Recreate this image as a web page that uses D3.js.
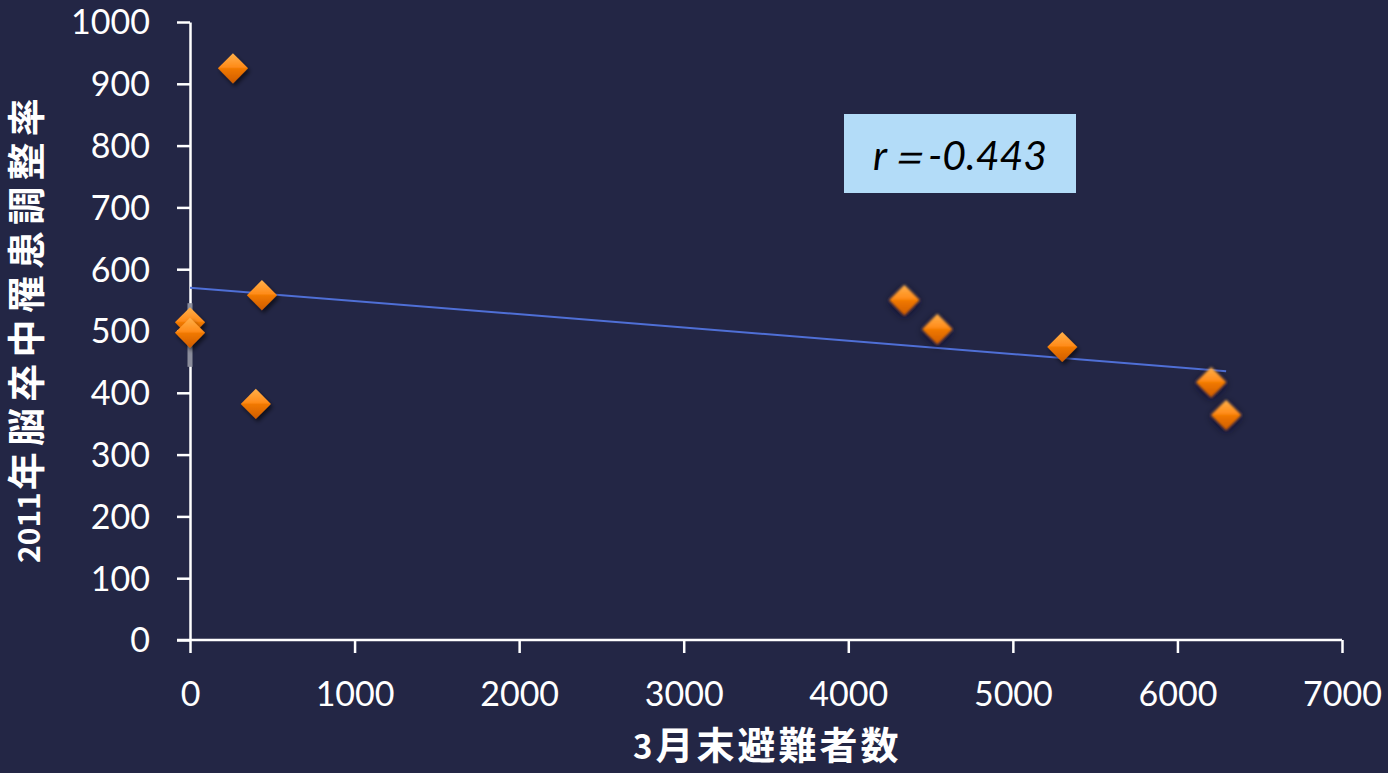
<!DOCTYPE html>
<html>
<head>
<meta charset="utf-8">
<script src="https://cdn.jsdelivr.net/npm/d3@7"></script>
<style>
  html, body { margin: 0; padding: 0; background: #232645; }
  svg { display: block; }
</style>
</head>
<body>
<svg id="chart" width="1388" height="773"></svg>
<script>
// Evacuees at end of March vs. 2011 age-adjusted stroke incidence, by municipality
const evacuees  = [261, 437, 400, 0, 0, 4341, 4541, 5300, 6205, 6296];
const strokeRate = [925, 558, 382, 514, 497, 550, 503, 474, 417, 364];

// Fitted regression line (end points in data units)
const trendX = [0, 6296];
const trendY = [570, 435];

const xTicks = [0, 1000, 2000, 3000, 4000, 5000, 6000, 7000];
const yTicks = [0, 100, 200, 300, 400, 500, 600, 700, 800, 900, 1000];

const xTitleNum = "3", xTitleText = "月末避難者数";
const yTitleNum = "2011", yTitleText = "年脳卒中罹患調整率";
const corrLabel = "r＝-0.443";

const plot = { left: 190, right: 1342, top: 22, bottom: 640 };

const svg = d3.select("#chart");
const x = d3.scaleLinear().domain([0, 7000]).range([plot.left, plot.right]);
const y = d3.scaleLinear().domain([0, 1000]).range([plot.bottom, plot.top]);

const defs = svg.append("defs");
const grad = defs.append("linearGradient")
  .attr("id", "diamondFill").attr("x1", 0).attr("y1", 0).attr("x2", 0).attr("y2", 1);
[["0%", "#ffb04a"], ["45%", "#ff8c1a"], ["52%", "#f07800"], ["100%", "#cf5c00"]]
  .forEach(([o, c]) => grad.append("stop").attr("offset", o).attr("stop-color", c));

const shadow = defs.append("filter").attr("id", "shadow")
  .attr("x", "-50%").attr("y", "-50%").attr("width", "200%").attr("height", "200%");
shadow.append("feDropShadow").attr("dx", 2).attr("dy", 3).attr("stdDeviation", 2)
  .attr("flood-color", "#000").attr("flood-opacity", 0.6);

const soft = defs.append("filter").attr("id", "soft")
  .attr("x", "-60%").attr("y", "-60%").attr("width", "220%").attr("height", "220%");
soft.append("feDropShadow").attr("dx", 0).attr("dy", 2).attr("stdDeviation", 4)
  .attr("flood-color", "#0a0d20").attr("flood-opacity", 0.9);
soft.append("feGaussianBlur").attr("stdDeviation", 1.3);

// Axes
const fmt = d3.format("d");
const xAxis = d3.axisBottom(x).tickValues(xTicks).tickFormat(fmt)
  .tickSize(13).tickSizeOuter(0).tickPadding(29);
const yAxis = d3.axisLeft(y).tickValues(yTicks).tickFormat(fmt)
  .tickSize(13).tickSizeOuter(0).tickPadding(27);

const gx = svg.append("g").attr("transform", `translate(0,${plot.bottom})`).call(xAxis);
const gy = svg.append("g").attr("transform", `translate(${plot.left},0)`).call(yAxis);

[gx, gy].forEach(g => {
  g.select(".domain").attr("stroke", "#ffffff").attr("stroke-width", 2.5);
  g.selectAll(".tick line").attr("stroke", "#ffffff").attr("stroke-width", 2.5);
  g.selectAll(".tick text")
    .attr("fill", "#ffffff")
    .style("font-family", "Lato, 'Open Sans', sans-serif")
    .style("font-size", "34px");
});
gx.selectAll(".tick text").attr("dy", "0.71em");
gy.selectAll(".tick text").attr("dy", "0.35em");
// Extend the x-axis line slightly to the left of the origin
gx.select(".domain").attr("d", `M${plot.left - 13},0H${plot.right}`);

// Overlap marker at the origin cluster
svg.append("rect")
  .attr("x", x(0) - 2.5).attr("width", 5)
  .attr("y", y(545)).attr("height", y(442) - y(545))
  .attr("fill", "#8b8d9c");

// Trend line
svg.append("line")
  .attr("x1", x(trendX[0])).attr("y1", y(trendY[0]))
  .attr("x2", x(trendX[1])).attr("y2", y(trendY[1]))
  .attr("stroke", "#4f6fd6").attr("stroke-width", 2);

// Diamond markers
const softSet = new Set([5, 6, 8, 9]);
const diamond = d3.symbol().type(d3.symbolDiamond2).size(2 * 17 * 17);
svg.append("g").selectAll("path")
  .data(evacuees.map((v, i) => ({ v, r: strokeRate[i], i })))
  .join("path")
  .attr("d", diamond)
  .attr("transform", d => `translate(${x(d.v)},${y(d.r)})`)
  .attr("fill", "url(#diamondFill)")
  .attr("filter", d => softSet.has(d.i) ? "url(#soft)" : "url(#shadow)");

// Correlation label box
const box = svg.append("g").attr("transform", "translate(844,114)");
box.append("rect").attr("width", 232).attr("height", 79).attr("fill", "#b3dcf8");
box.append("text")
  .attr("x", 116).attr("y", 42).attr("dy", "0.35em")
  .attr("text-anchor", "middle")
  .style("font-family", "Lato, 'Open Sans', sans-serif")
  .style("font-style", "italic")
  .style("font-size", "41px")
  .attr("fill", "#000")
  .text(corrLabel);

// Axis titles
const titleFont = "'Noto Sans CJK JP', sans-serif";
const xt = svg.append("text")
  .attr("x", 633).attr("y", 753).attr("dy", "0.36em")
  .style("font-family", titleFont).style("font-weight", "bold")
  .attr("fill", "#ffffff");
xt.append("tspan").style("font-size", "33px").text(xTitleNum);
xt.append("tspan").attr("dx", 3)
  .attr("textLength", 243).attr("lengthAdjust", "spacing")
  .style("font-size", "38px").text(xTitleText);

const yt = svg.append("text")
  .attr("transform", "translate(34,563) rotate(-90)")
  .attr("dy", "0.36em")
  .style("font-family", titleFont).style("font-weight", "bold")
  .attr("fill", "#ffffff");
yt.append("tspan").style("font-size", "30px").text(yTitleNum);
yt.append("tspan").attr("dx", 2)
  .attr("textLength", 392).attr("lengthAdjust", "spacing")
  .style("font-size", "38px").text(yTitleText);
</script>
</body>
</html>
